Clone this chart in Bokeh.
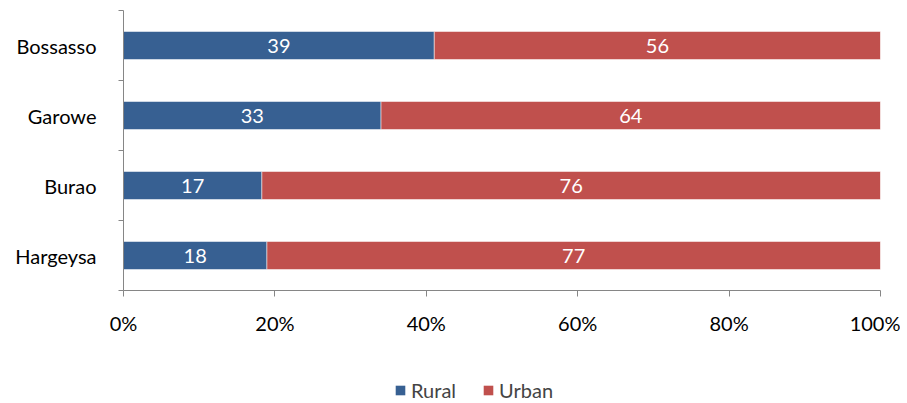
from bokeh.plotting import figure
from bokeh.layouts import column
from bokeh.models import ColumnDataSource, Range1d, FixedTicker, NumeralTickFormatter, Legend, LegendItem
from bokeh.embed import file_html
from bokeh.resources import INLINE
from bokeh.core.properties import value

cities = ["Bossasso", "Garowe", "Burao", "Hargeysa"]
rural = [39, 33, 17, 18]
urban = [56, 64, 76, 77]
series = ["Rural", "Urban"]
colors = ["#376092", "#C0504D"]
x_ticks = [0, 0.2, 0.4, 0.6, 0.8, 1.0]

FONT = "Lato"
FS = "20px"
n = len(cities)
ypos = [n - i - 0.5 for i in range(n)]
tot = [r + u for r, u in zip(rural, urban)]
r_share = [r / t for r, t in zip(rural, tot)]

src = ColumnDataSource(dict(
    y=ypos,
    r0=[0.0] * n,
    r1=r_share,
    u1=[1.0] * n,
    rl=[str(v) for v in rural],
    ul=[str(v) for v in urban],
    rx=[s / 2 for s in r_share],
    ux=[(s + 1) / 2 for s in r_share],
))

p = figure(frame_width=757, frame_height=280, output_backend="svg", toolbar_location=None,
           x_range=Range1d(0, 1), y_range=Range1d(0, n),
           min_border_left=123, min_border_right=20, min_border_top=10, min_border_bottom=45)
p.outline_line_color = None
p.xgrid.visible = False
p.ygrid.visible = False

rb = p.hbar(y="y", left="r0", right="r1", height=0.4, source=src,
            fill_color=colors[0], line_color="white", line_alpha=0.5, line_width=1)
ub = p.hbar(y="y", left="r1", right="u1", height=0.4, source=src,
            fill_color=colors[1], line_color="white", line_alpha=0.5, line_width=1)

for xc, lc in (("rx", "rl"), ("ux", "ul")):
    p.text(x=xc, y="y", text=lc, source=src, text_align="center", text_baseline="middle",
           text_color="white", text_font=value(FONT), text_font_size=FS)

ax_col = "#868686"
xa = p.xaxis[0]
xa.ticker = FixedTicker(ticks=x_ticks)
xa.formatter = NumeralTickFormatter(format="0%")
xa.axis_line_color = ax_col
xa.major_tick_line_color = ax_col
xa.major_tick_out = 6
xa.major_tick_in = 0
xa.minor_tick_line_color = None
xa.major_label_text_font = FONT
xa.major_label_text_font_size = FS
xa.major_label_text_color = "black"
xa.major_label_standoff = 14

ya = p.yaxis[0]
ya.ticker = FixedTicker(ticks=ypos, minor_ticks=list(range(n + 1)))
ya.major_label_overrides = {y: c for y, c in zip(ypos, cities)}
ya.axis_line_color = ax_col
ya.major_tick_line_color = None
ya.major_tick_out = 0
ya.major_tick_in = 0
ya.minor_tick_line_color = ax_col
ya.minor_tick_out = 5
ya.minor_tick_in = 0
ya.major_label_text_font = FONT
ya.major_label_text_font_size = FS
ya.major_label_text_color = "black"
ya.major_label_standoff = 22

# legend strip below the chart (its bars lie outside its visible range)
lf = figure(width=900, height=68, output_backend="svg", toolbar_location=None,
            x_range=Range1d(0, 1), y_range=Range1d(10 * n, 10 * n + 1),
            x_axis_location=None, y_axis_location=None,
            min_border_left=0, min_border_right=0, min_border_top=0, min_border_bottom=0)
lf.outline_line_color = None
lf.xgrid.visible = False
lf.ygrid.visible = False
lr = lf.hbar(y="y", left="r0", right="r1", height=0.4, source=src,
             fill_color=colors[0], line_color=None)
lu = lf.hbar(y="y", left="r1", right="u1", height=0.4, source=src,
             fill_color=colors[1], line_color=None)

legend = Legend(items=[LegendItem(label=series[0], renderers=[lr]),
                       LegendItem(label=series[1], renderers=[lu])],
                orientation="horizontal", location=(271, 3),
                border_line_color=None, background_fill_alpha=0,
                glyph_width=12, glyph_height=12, label_standoff=5, spacing=26,
                label_text_font=FONT, label_text_font_size=FS,
                margin=0, padding=0)
lf.add_layout(legend, "center")

layout = column(p, lf, spacing=0)
open("out.html", "w").write(file_html(layout, INLINE))
